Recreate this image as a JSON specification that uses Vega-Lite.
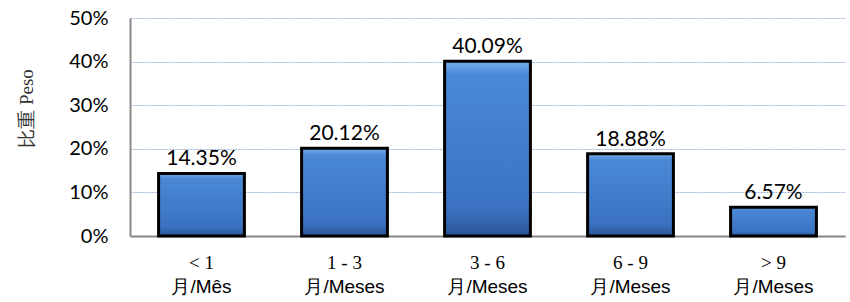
{
  "$schema": "https://vega.github.io/schema/vega-lite/v6.json",
  "width": 715,
  "height": 218,
  "autosize": {"type": "none"},
  "padding": {"left": 130, "top": 18, "right": 5, "bottom": 66},
  "background": "white",
  "config": {"view": {"stroke": null}},
  "data": {
    "values": [
      {"range": "< 1", "unit": "月/Mês", "share": 0.1435},
      {"range": "1 - 3", "unit": "月/Meses", "share": 0.2012},
      {"range": "3 - 6", "unit": "月/Meses", "share": 0.4009},
      {"range": "6 - 9", "unit": "月/Meses", "share": 0.1888},
      {"range": "> 9", "unit": "月/Meses", "share": 0.0657}
    ]
  },
  "encoding": {
    "x": {
      "field": "range",
      "type": "nominal",
      "sort": null,
      "scale": {"paddingInner": 0.4, "paddingOuter": 0.2}
    },
    "y": {
      "field": "share",
      "type": "quantitative",
      "scale": {"domain": [0, 0.5], "nice": false},
      "axis": {
        "format": "%",
        "values": [0, 0.1, 0.2, 0.3, 0.4, 0.5],
        "title": "比重 Peso",
        "titleFont": "Liberation Serif",
        "titleFontSize": 19,
        "titleFontWeight": "normal",
        "titleColor": "#333333",
        "titlePadding": 32,
        "titleY": 90,
        "labelFont": "Lato",
        "labelFontSize": 20,
        "labelColor": "#000000",
        "labelPadding": 22,
        "ticks": false,
        "domainColor": "#888888",
        "domainWidth": 2,
        "grid": true,
        "gridColor": "#9DB4DA",
        "gridDash": [2, 1],
        "gridWidth": 1
      }
    }
  },
  "layer": [
    {
      "mark": {
        "type": "bar",
        "stroke": "#000000",
        "strokeWidth": 3,
        "fill": {
          "gradient": "linear",
          "x1": 0, "y1": 0, "x2": 0, "y2": 1,
          "stops": [
            {"offset": 0, "color": "#78AEEB"},
            {"offset": 0.08, "color": "#4A88D6"},
            {"offset": 0.85, "color": "#3A72C1"},
            {"offset": 1, "color": "#2B5699"}
          ]
        }
      },
      "encoding": {
        "x": {
          "field": "range",
          "type": "nominal",
          "sort": null,
          "axis": {
            "orient": "bottom",
            "title": null,
            "labelAngle": 0,
            "labelFont": "Liberation Serif",
            "labelFontSize": 19,
            "labelColor": "#000000",
            "labelPadding": 17,
            "ticks": false,
            "domainColor": "#888888",
            "domainWidth": 2
          }
        }
      }
    },
    {
      "mark": {
        "type": "text",
        "baseline": "bottom",
        "dy": -4,
        "font": "Lato",
        "fontSize": 21,
        "color": "#000000"
      },
      "encoding": {
        "text": {"field": "share", "type": "quantitative", "format": ".2%"},
        "x": {
          "field": "range",
          "type": "nominal",
          "sort": null,
          "axis": {
            "orient": "bottom",
            "title": null,
            "labelAngle": 0,
            "labelExpr": "datum.value == '< 1' ? '月/Mês' : '月/Meses'",
            "labelFont": "Liberation Sans",
            "labelFontSize": 19,
            "labelColor": "#000000",
            "labelPadding": 41,
            "ticks": false,
            "domain": false
          }
        }
      }
    }
  ],
  "resolve": {"axis": {"x": "independent"}}
}
